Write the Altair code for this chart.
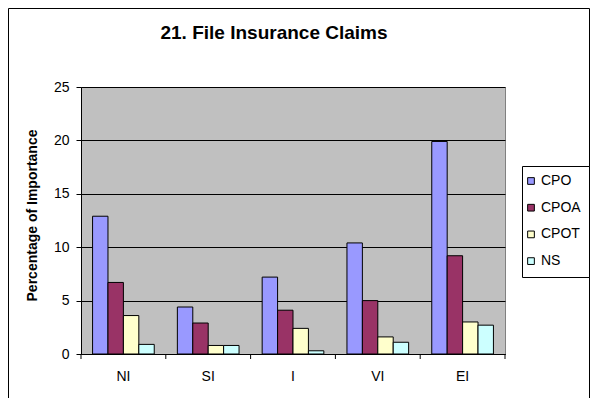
import altair as alt
import pandas as pd

categories = ["NI", "SI", "I", "VI", "EI"]
series = ["CPO", "CPOA", "CPOT", "NS"]
cpo = [12.9, 4.4, 7.2, 10.4, 19.9]
cpoa = [6.7, 2.9, 4.1, 5.0, 9.2]
cpot = [3.6, 0.8, 2.4, 1.6, 3.0]
ns = [0.9, 0.8, 0.3, 1.1, 2.7]
colors = ["#9999FF", "#993366", "#FFFFCC", "#CCFFFF"]

rows = []
for s, vals in zip(series, [cpo, cpoa, cpot, ns]):
    for c, v in zip(categories, vals):
        rows.append({"cat": c, "series": s, "value": v})
df = pd.DataFrame(rows)
cat_df = pd.DataFrame({"cat": categories})

FONT = "Liberation Sans"
W, H = 424, 267

bars = alt.Chart(df).mark_bar(stroke="black", strokeWidth=1).encode(
    x=alt.X("cat:N", sort=categories, title=None,
            scale=alt.Scale(paddingInner=0, paddingOuter=0),
            axis=alt.Axis(labelAngle=0, ticks=False, domainColor="black",
                          labelPadding=15, labelFontSize=14, labelFont=FONT,
                          labelColor="black", grid=False)),
    xOffset=alt.XOffset("series:N", sort=series,
                        scale=alt.Scale(paddingInner=0, paddingOuter=0.75)),
    y=alt.Y("value:Q", title="Percentage of Importance",
            scale=alt.Scale(domain=[0, 25], nice=False),
            axis=alt.Axis(values=[0, 5, 10, 15, 20, 25], tickSize=5,
                          tickColor="black", domainColor="black",
                          gridColor="black", gridWidth=1, grid=True,
                          labelPadding=7, labelFontSize=14, labelFont=FONT,
                          labelColor="black", titleFont=FONT, titleFontSize=14,
                          titleFontWeight="bold", titleColor="black",
                          titleX=-48.5, titleY=128, titleAngle=270,
                          titleBaseline="middle", titleAlign="center")),
    color=alt.Color("series:N", sort=series,
                    scale=alt.Scale(domain=series, range=colors),
                    legend=alt.Legend(title=None, orient="none", legendX=441,
                                      legendY=79, symbolType="square",
                                      symbolSize=45, symbolStrokeColor="black",
                                      symbolStrokeWidth=1, labelFontSize=14,
                                      labelFont=FONT, labelColor="black",
                                      rowPadding=12.7, padding=8,
                                      symbolOffset=-6, labelOffset=3,
                                      strokeColor="black", fillColor="white")),
)

cat_ticks = alt.Chart(cat_df).mark_rule(color="black", strokeWidth=1).encode(
    x=alt.X("cat:N", sort=categories, title=None, bandPosition=0),
    y=alt.value(H), y2=alt.value(H + 5))

end_tick = alt.Chart(pd.DataFrame({"a": [0]})).mark_rule(color="black").encode(
    x=alt.value(W), y=alt.value(H), y2=alt.value(H + 5))

border = alt.Chart(pd.DataFrame({"a": [0]})).mark_rect(
    fill="transparent", stroke="black", strokeWidth=1).encode(
    x=alt.value(-72.5), x2=alt.value(W + 85 - 0.5),
    y=alt.value(-78.5), y2=alt.value(H + 60))

chart = alt.layer(border, bars, cat_ticks, end_tick).properties(
    width=W, height=H,
    background="white",
    title=alt.TitleParams("21.  File Insurance Claims", font=FONT, fontSize=19,
                          fontWeight="bold", color="black", anchor="middle",
                          dx=-19, dy=50, offset=0, baseline="alphabetic"),
    autosize=alt.AutoSizeParams(type="none"),
    padding={"left": 73, "top": 79, "right": 85, "bottom": 44},
).configure_view(stroke="#808080", fill="#C0C0C0")

chart.save("out.html", embed_options={"renderer": "svg", "actions": False})
